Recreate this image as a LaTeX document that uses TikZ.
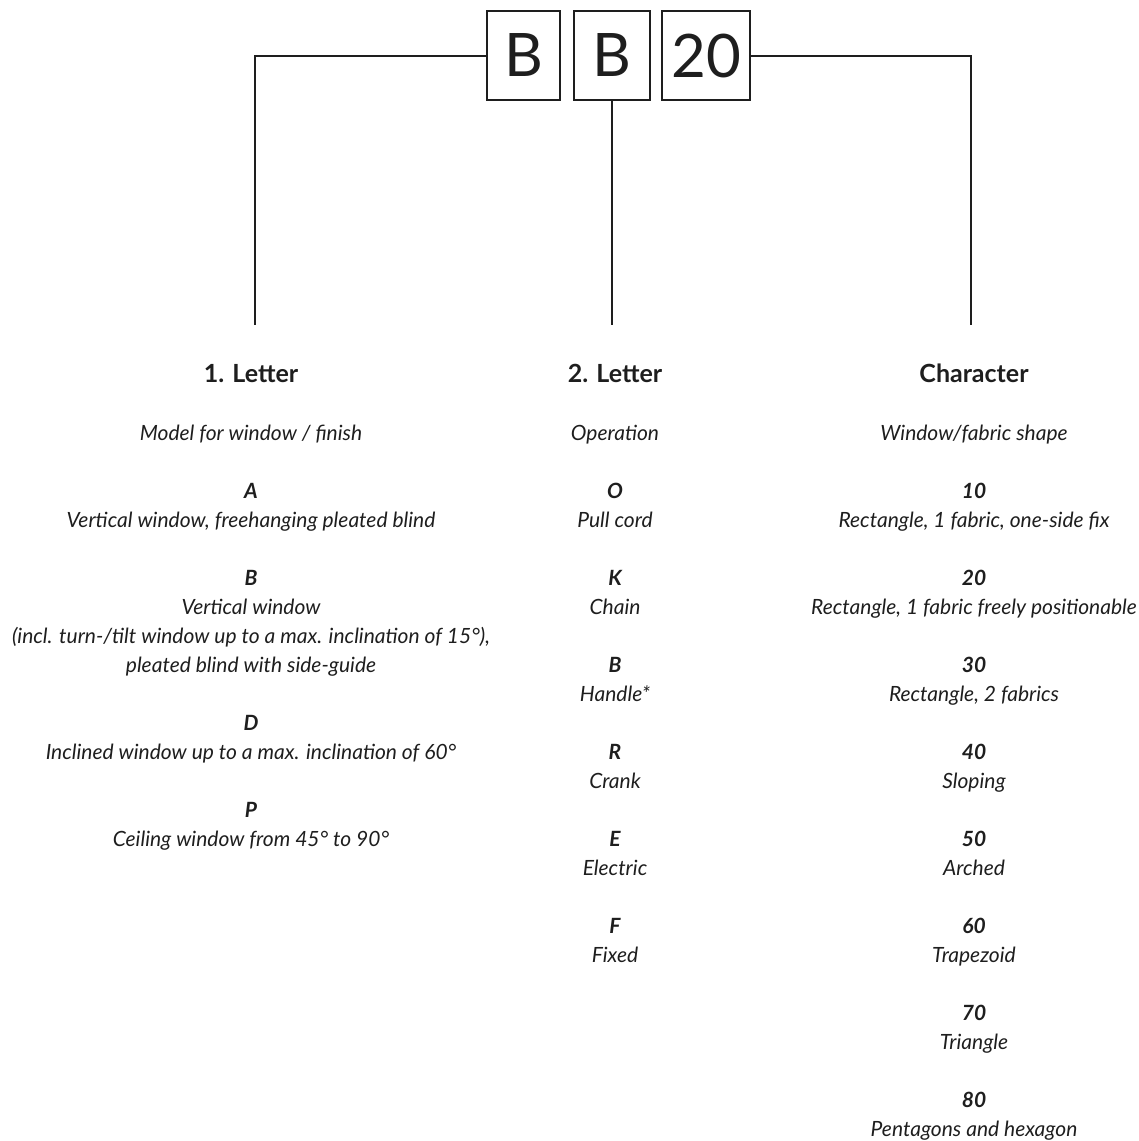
\documentclass[tikz,border=0pt]{standalone}
\usepackage{fontspec}
\setmainfont{Lato}
\definecolor{ink}{HTML}{1E1E1E}
\begin{document}
\begin{tikzpicture}[x=1pt,y=-1pt,
  every node/.style={text=ink, inner sep=0pt, anchor=base},
  codebox/.style={draw=ink, line width=2pt, minimum height=89pt, anchor=center,
    font=\fontsize{60}{60}\selectfont},
  conn/.style={draw=ink, line width=2pt},
  head/.style={font=\fontsize{25}{29}\selectfont\bfseries},
  sub/.style={font=\fontsize{21}{25}\selectfont\itshape},
  code/.style={font=\fontsize{21}{25}\selectfont\bfseries\itshape},
  desc/.style={font=\fontsize{21}{25}\selectfont\itshape}]
\useasboundingbox (0,0) rectangle (1139,1141);
% code boxes
\node[codebox, minimum width=73pt] (b1) at (523.5,55.5) {B};
\node[codebox, minimum width=76pt] (b2) at (612,55.5) {B};
\node[codebox, minimum width=88pt] (b3) at (706,55.5) {20};
\coordinate (c1) at (255,325);
\coordinate (c2) at (612,325);
\coordinate (c3) at (971,325);
\draw[conn] (b1.west) -| (c1);
\draw[conn] (b2.south) -- (c2);
\draw[conn] (b3.east) -| (c3);
% column 1
\node[head] (h1) at (251,382) {1. Letter};
\node[sub] (s1) at (251,440) {Model for window / finish};
\node[code] (k1a) at (251,498) {A};
\node[desc] (d1a) at (251,527) {Vertical window, freehanging pleated blind};
\node[code] (k1b) at (251,585) {B};
\node[desc] (d1b1) at (251,614) {Vertical window};
\node[desc] (d1b2) at (251,643) {(incl. turn-/tilt window up to a max. inclination of 15°),};
\node[desc] (d1b3) at (251,672) {pleated blind with side-guide};
\node[code] (k1d) at (251,730) {D};
\node[desc] (d1d) at (251,759) {Inclined window up to a max. inclination of 60°};
\node[code] (k1p) at (251,817) {P};
\node[desc] (d1p) at (251,846) {Ceiling window from 45° to 90°};
% column 2
\node[head] (h2) at (615,382) {2. Letter};
\node[sub] (s2) at (615,440) {Operation};
\node[code] (k2o) at (615,498) {O};
\node[desc] (d2o) at (615,527) {Pull cord};
\node[code] (k2k) at (615,585) {K};
\node[desc] (d2k) at (615,614) {Chain};
\node[code] (k2b) at (615,672) {B};
\node[desc] (d2b) at (615,701) {Handle*};
\node[code] (k2r) at (615,759) {R};
\node[desc] (d2r) at (615,788) {Crank};
\node[code] (k2e) at (615,846) {E};
\node[desc] (d2e) at (615,875) {Electric};
\node[code] (k2f) at (615,933) {F};
\node[desc] (d2f) at (615,962) {Fixed};
% column 3
\node[head] (h3) at (974,382) {Character};
\node[sub] (s3) at (974,440) {Window/fabric shape};
\node[code] (k3a) at (974,498) {10};
\node[desc] (d3a) at (974,527) {Rectangle, 1 fabric, one-side fix};
\node[code] (k3b) at (974,585) {20};
\node[desc] (d3b) at (974,614) {Rectangle, 1 fabric freely positionable};
\node[code] (k3c) at (974,672) {30};
\node[desc] (d3c) at (974,701) {Rectangle, 2 fabrics};
\node[code] (k3d) at (974,759) {40};
\node[desc] (d3d) at (974,788) {Sloping};
\node[code] (k3e) at (974,846) {50};
\node[desc] (d3e) at (974,875) {Arched};
\node[code] (k3f) at (974,933) {60};
\node[desc] (d3f) at (974,962) {Trapezoid};
\node[code] (k3g) at (974,1020) {70};
\node[desc] (d3g) at (974,1049) {Triangle};
\node[code] (k3h) at (974,1107) {80};
\node[desc] (d3h) at (974,1136) {Pentagons and hexagon};
\end{tikzpicture}
\end{document}
